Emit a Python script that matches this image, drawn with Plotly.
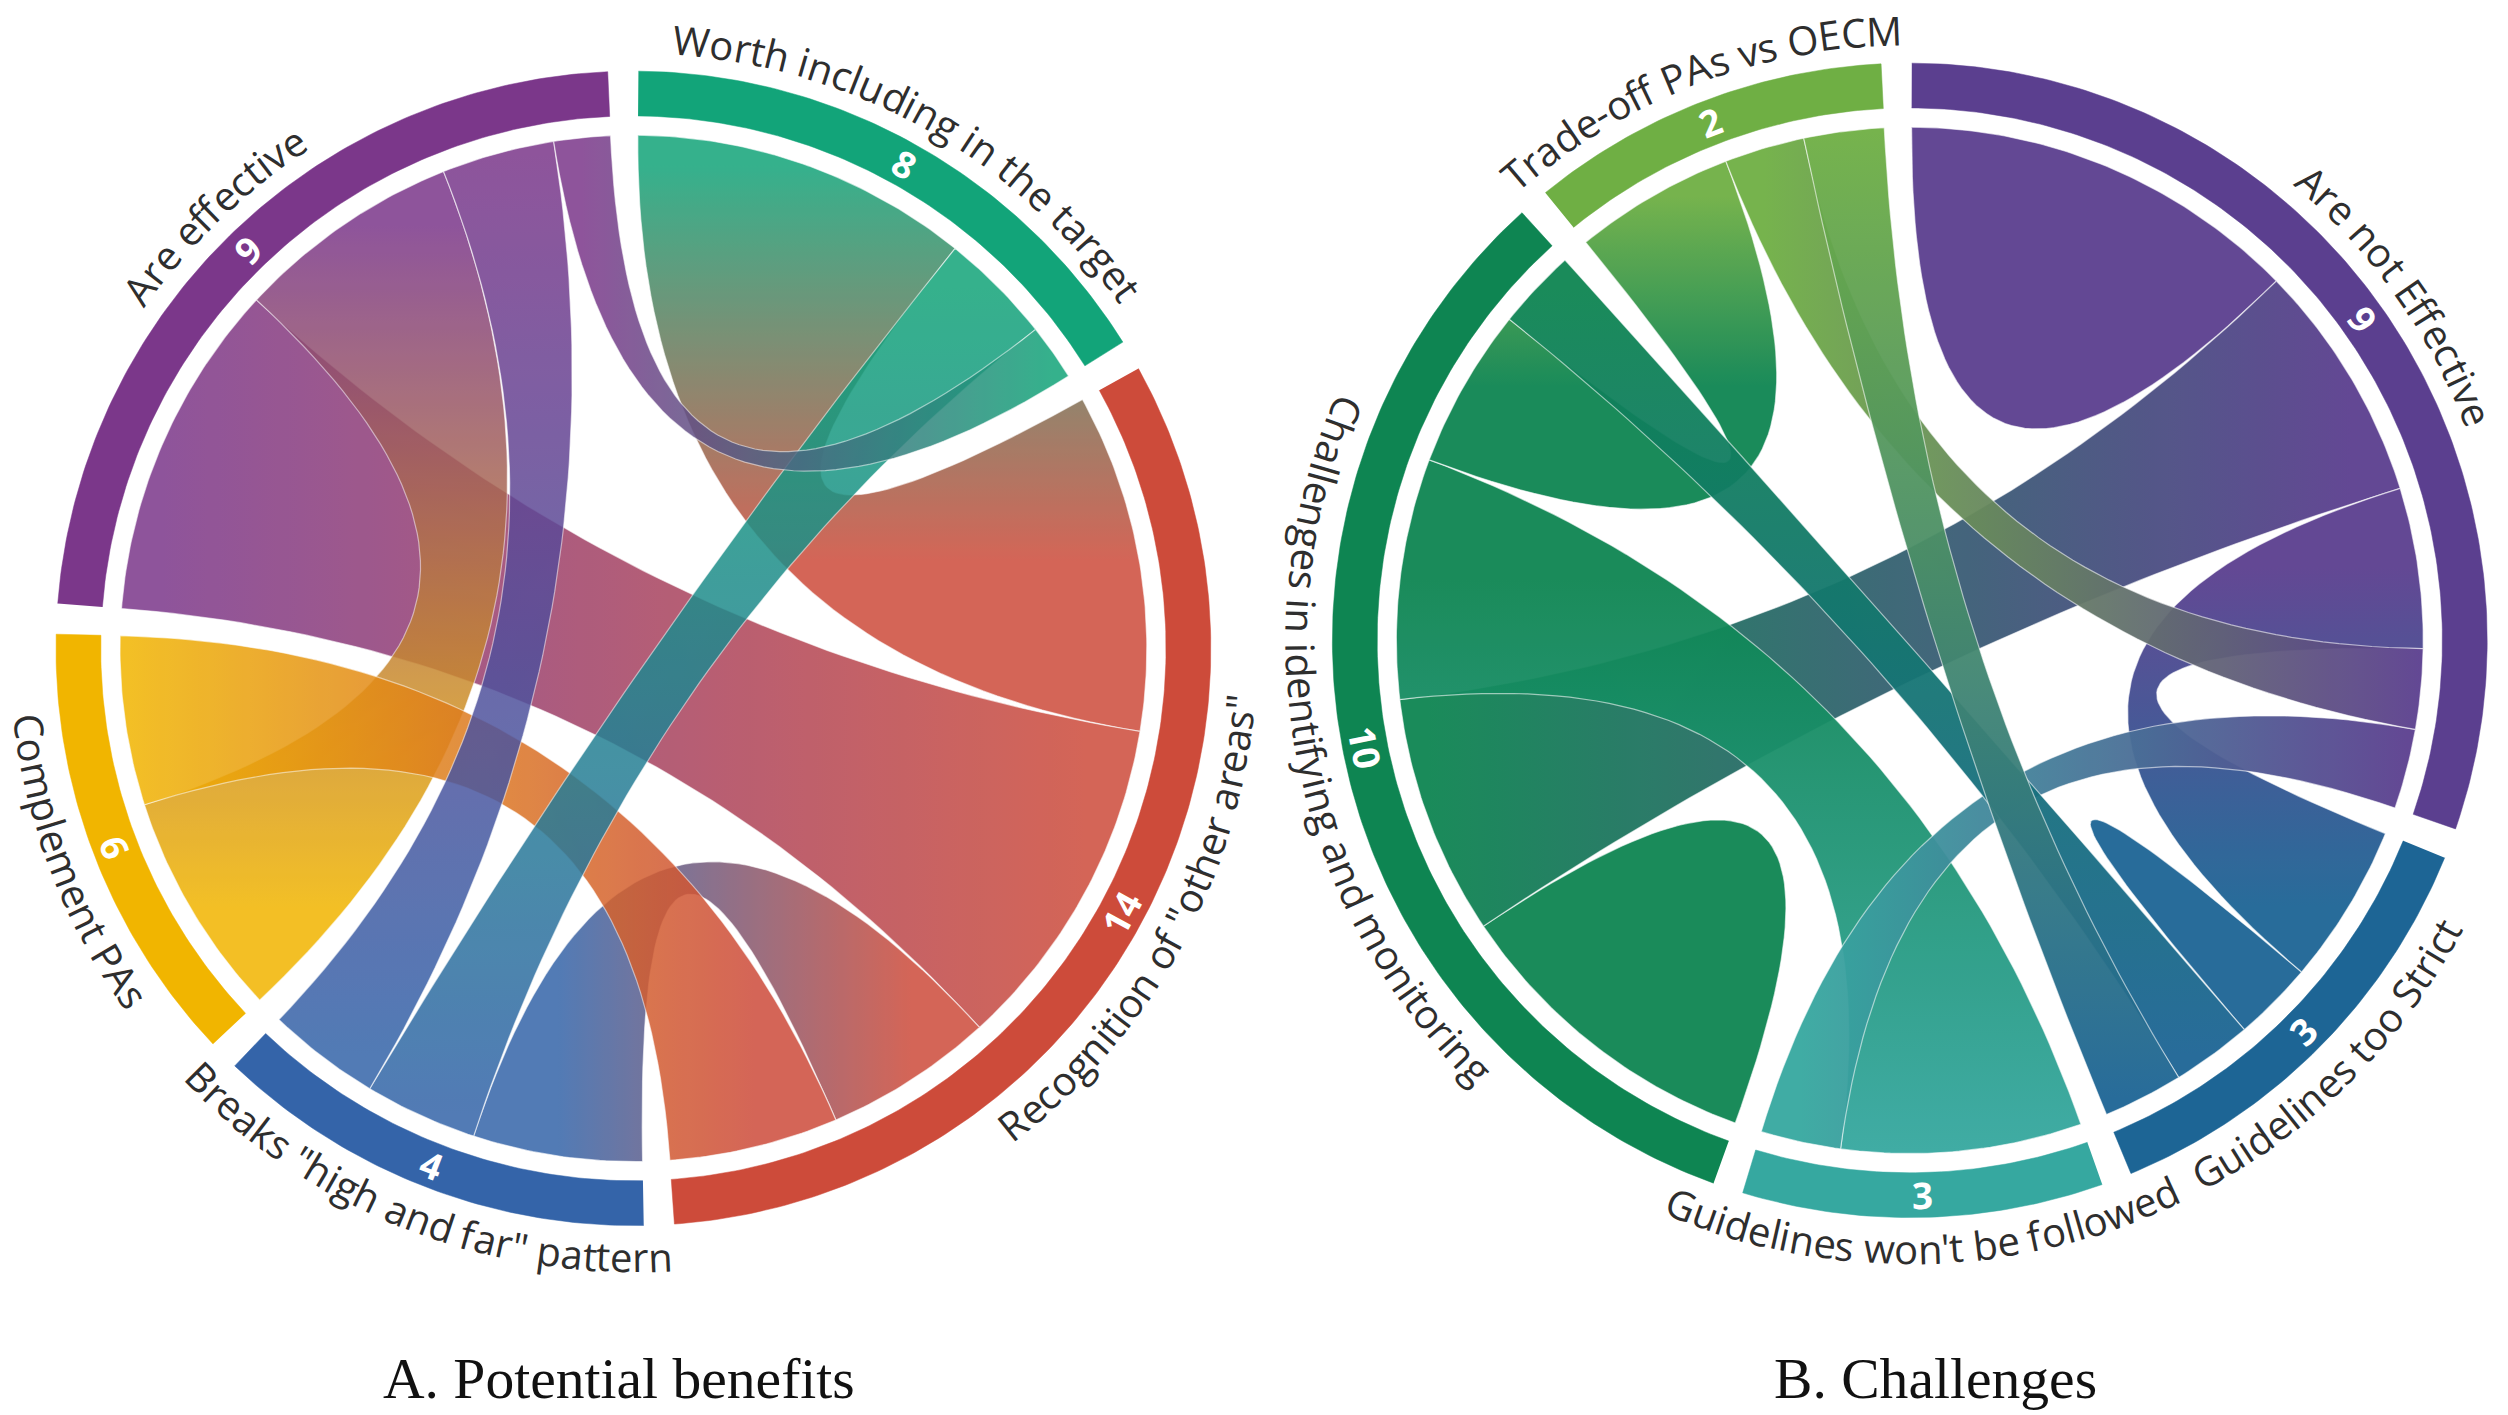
import math
import plotly.graph_objects as go

# ---------------- data ----------------
A_names = ["Worth including in the target", 'Recognition of "other areas"',
           'Breaks "high and far" pattern', "Complement PAs", "Are effective"]
A_counts = [8, 14, 4, 6, 9]
A_colors = ["#12a479", "#cd4b3a", "#3464a9", "#f1b500", "#7b378a"]
A_links = [
    [0, 6, 2, 0, 1],
    [6, 0, 3, 3, 6],
    [2, 3, 0, 0, 2],
    [0, 3, 0, 0, 4],
    [1, 6, 2, 4, 0],
]
A_sub_order = [[1, 2, 4], [0, 4, 2, 3], [1, 0, 4], [4, 1], [1, 3, 2, 0]]

B_names = ["Are not Effective", "Guidelines too Strict", "Guidelines won't be followed",
           "Challenges in identifying and monitoring", "Trade-off PAs vs OECM"]
B_counts = [9, 3, 3, 10, 2]
B_colors = ["#5b3f8f", "#1d6595", "#36a8a0", "#0e8552", "#6faf44"]
B_links = [
    [5, 2, 1, 3, 1],
    [2, 1, 0, 1, 1],
    [1, 0, 0, 3, 0],
    [3, 1, 3, 4, 2],
    [1, 1, 0, 2, 0],
]
B_sub_order = [[0, 3, 1, 4, 2], [0, 1, 3, 4], [3, 0], [3, 0, 2, 4, 1], [3, 0, 1]]

titles = ["A. Potential benefits", "B. Challenges"]

# ---------------- geometry (canvas units) ----------------
VW, VH = 1568.0, 885.0
S = 2508.0 / VW
R_OUT, R_IN, R_CH = 361.0, 333.0, 321.0
LBL_FS = 25.0
NUM_FS = 23.0

CW = {' ': 532, '"': 821, "'": 385, '-': 659, 'A': 1296, 'B': 1327, 'C': 1292, 'E': 1120,
      'G': 1462, 'M': 1849, 'O': 1595, 'P': 1233, 'R': 1266, 'S': 1114, 'T': 1118, 'W': 1886,
      'a': 1139, 'b': 1255, 'c': 975, 'd': 1255, 'e': 1149, 'f': 694, 'g': 1122, 'h': 1257,
      'i': 518, 'k': 1075, 'l': 518, 'm': 1905, 'n': 1257, 'o': 1237, 'p': 1255, 'r': 836,
      's': 977, 't': 723, 'u': 1257, 'v': 1026, 'w': 1593, 'y': 1028}


def P(cx, cy, r, th):
    t = math.radians(th)
    return (cx + r * math.sin(t), cy - r * math.cos(t))


def arc(cx, cy, r, a0, a1):
    n = max(3, int(abs(a1 - a0) / 0.7) + 2)
    return [P(cx, cy, r, a0 + (a1 - a0) * k / (n - 1)) for k in range(n)]


def quad(p0, c, p2, n=60):
    out = []
    for k in range(n):
        t = k / (n - 1)
        out.append(((1 - t) ** 2 * p0[0] + 2 * (1 - t) * t * c[0] + t * t * p2[0],
                    (1 - t) ** 2 * p0[1] + 2 * (1 - t) * t * c[1] + t * t * p2[1]))
    return out


def norm_angle(a):
    a = a % 360
    if a > 180:
        a -= 360
    return a


def chord_layout(links, order, start, gap):
    n = len(links)
    totals = [sum(links[i][j] for j in order[i]) for i in range(n)]
    unit = (360.0 - n * gap) / sum(totals)
    groups, sub = [], {}
    a = start
    for i in range(n):
        g0 = a
        for j in order[i]:
            w = links[i][j] * unit
            sub[(i, j)] = (a, a + w)
            a += w
        groups.append((g0, a))
        a += gap
    return groups, sub


def add_curved_label(ann, cx, cy, text, mid):
    bottom = 90 < (mid % 360) < 270
    if bottom:
        rb, rc = 390.0, 380.5
    else:
        rb, rc = 374.0, 382.0
    widths = [CW.get(ch, 1100) / 2048.0 * LBL_FS for ch in text]
    total = sum(widths)
    span = total / rb * 180 / math.pi
    cum = 0.0
    for ch, w in zip(text, widths):
        d = (cum + w / 2) / rb * 180 / math.pi
        cum += w
        if ch == ' ':
            continue
        if bottom:
            th = mid + span / 2 - d
            ang = th - 180
        else:
            th = mid - span / 2 + d
            ang = th
        x, y = P(cx, cy, rc, th)
        ann.append(dict(x=x, y=y, xref='x', yref='y', text=ch, showarrow=False,
                        xanchor='center', yanchor='middle', textangle=norm_angle(ang),
                        borderpad=0,
                        font=dict(family='Open Sans', size=LBL_FS * S, color='#2e2e2e')))


def draw_chart(fig, ann, cx, cy, names, counts, colors, links, order, start, gap, op):
    groups, sub = chord_layout(links, order, start, gap)
    n = len(names)
    C = (cx, cy)
    pairs = []
    for i in range(n):
        for j in range(i, n):
            if links[i][j] > 0:
                pairs.append((i, j))
    pairs.sort(key=lambda p: (0 if p[0] == p[1] else 1, -links[p[0]][p[1]]))
    for (i, j) in pairs:
        a0, a1 = sub[(i, j)]
        if i == j:
            pts = arc(cx, cy, R_CH, a0, a1) + quad(P(cx, cy, R_CH, a1), C, P(cx, cy, R_CH, a0))
            xs = [p[0] for p in pts]
            ys = [p[1] for p in pts]
            fig.add_trace(go.Scatter(x=xs, y=ys, mode='lines', fill='toself', fillcolor=colors[i],
                                     line=dict(color='rgba(255,255,255,0.6)', width=1.2),
                                     opacity=op, hoverinfo='skip', showlegend=False))
            continue
        b0, b1 = sub[(j, i)]
        pts = (arc(cx, cy, R_CH, a0, a1) + quad(P(cx, cy, R_CH, a1), C, P(cx, cy, R_CH, b0)) +
               arc(cx, cy, R_CH, b0, b1) + quad(P(cx, cy, R_CH, b1), C, P(cx, cy, R_CH, a0)))
        xs = [p[0] for p in pts]
        ys = [p[1] for p in pts]
        sm = P(cx, cy, R_CH, (a0 + a1) / 2)
        tm = P(cx, cy, R_CH, (b0 + b1) / 2)
        dx, dy = tm[0] - sm[0], tm[1] - sm[1]
        if abs(dx) >= abs(dy):
            typ, s0, s1 = 'horizontal', sm[0], tm[0]
        else:
            typ, s0, s1 = 'vertical', sm[1], tm[1]
        c0, c1 = colors[i], colors[j]
        if s0 > s1:
            s0, s1, c0, c1 = s1, s0, c1, c0
        fig.add_trace(go.Scatter(x=xs, y=ys, mode='lines', fill='toself',
                                 fillgradient=dict(type=typ, start=s0, stop=s1,
                                                   colorscale=[[0, c0], [1, c1]]),
                                 line=dict(color='rgba(255,255,255,0.6)', width=1.2),
                                 opacity=op, hoverinfo='skip', showlegend=False))
    # outer ring
    for i in range(n):
        g0, g1 = groups[i]
        pts = arc(cx, cy, R_OUT, g0, g1) + arc(cx, cy, R_IN, g1, g0)
        fig.add_trace(go.Scatter(x=[p[0] for p in pts], y=[p[1] for p in pts], mode='lines',
                                 fill='toself', fillcolor=colors[i],
                                 line=dict(color=colors[i], width=0.5),
                                 hoverinfo='skip', showlegend=False))
        mid = (g0 + g1) / 2
        bottom = 90 < (mid % 360) < 270
        x, y = P(cx, cy, (R_OUT + R_IN) / 2, mid)
        ann.append(dict(x=x, y=y, xref='x', yref='y', text='<b>%d</b>' % counts[i],
                        showarrow=False, xanchor='center', yanchor='middle',
                        textangle=norm_angle(mid - 180 if bottom else mid),
                        font=dict(family='Open Sans', size=NUM_FS * S, color='white')))
        add_curved_label(ann, cx, cy, names[i], mid)


fig = go.Figure()
ann = []
draw_chart(fig, ann, 396.0, 405.5, A_names, A_counts, A_colors, A_links, A_sub_order,
           0.5, 3.05, 0.85)
draw_chart(fig, ann, 1194.0, 400.5, B_names, B_counts, B_colors, B_links, B_sub_order,
           0.2, 3.05, 0.95)

for t, x in zip(titles, [387.0, 1210.0]):
    ann.append(dict(x=x, y=862.0, xref='x', yref='y', text=t, showarrow=False,
                    xanchor='center', yanchor='middle',
                    font=dict(family='Liberation Serif, Times New Roman, serif',
                              size=36 * S, color='#111111')))

fig.update_layout(
    width=2508, height=1415,
    margin=dict(l=0, r=0, t=0, b=0),
    paper_bgcolor='white', plot_bgcolor='white',
    xaxis=dict(range=[0, VW], visible=False, fixedrange=True),
    yaxis=dict(range=[VH, 0], visible=False, fixedrange=True),
    annotations=ann,
    showlegend=False,
)

fig.write_html("out.html", config={'displayModeBar': False},
               post_script="document.body.style.margin='0';document.body.style.overflow='hidden';")
